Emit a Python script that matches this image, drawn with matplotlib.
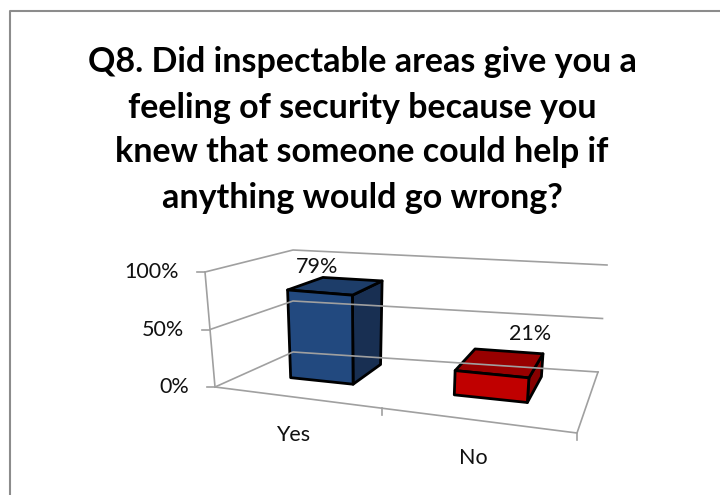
import matplotlib
matplotlib.use('Agg')
import matplotlib.pyplot as plt
from matplotlib.patches import Polygon

plt.rcParams['font.family'] = ['Lato', 'DejaVu Sans']

title = ('Q8. Did inspectable areas give you a\nfeeling of security because you\n'
         'knew that someone could help if\nanything would go wrong?')
categories = ['Yes', 'No']
values = [79, 21]
value_ticks = [0, 50, 100]
tick_labels = ['0%', '50%', '100%']

face_colors = [('#22497f', '#1d3d69', '#182f52'),   # front, top, side
               ('#c00000', '#980000', '#870000')]
label_offsets = [(-2, -26), (39, -40)]

# corners of the plot box in pixels, keyed by (x, depth, height) in 0..1
box = {(0, 0, 0): (215, 387), (1, 0, 0): (577, 433),
       (0, 1, 0): (293, 352), (1, 1, 0): (598, 372),
       (0, 0, 1): (205, 272), (1, 0, 1): (588, 306),
       (0, 1, 1): (293, 250), (1, 1, 1): (607, 265)}


def project(t, s, h):
    # foreshortening along the category and depth directions
    u = t / (t + (1 - t) * 1.17)
    v = s / (s + (1 - s) * 0.5)
    px = py = 0.0
    for (a, b, c), (x, y) in box.items():
        wgt = (u if a else 1 - u) * (v if b else 1 - v) * (h if c else 1 - h)
        px += wgt * x
        py += wgt * y
    return px, py


fig = plt.figure(figsize=(7.2, 4.95), dpi=100)
ax = fig.add_axes([0, 0, 1, 1])
ax.set_xlim(0, 720)
ax.set_ylim(495, 0)
ax.axis('off')

grid = '#a0a0a0'
ax.plot([10, 10, 720], [495, 11, 11], color='#8c8c8c', lw=1.5)

# walls and gridlines
for val in value_ticks:
    h = val / 100
    pts = [project(0, 0, h), project(0, 1, h), project(1, 1, h)]
    ax.plot(*zip(*pts), color=grid, lw=1.2)
    x0, y0 = project(0, 0, h)
    ax.plot([x0 - 8, x0], [y0, y0], color=grid, lw=1.2)
ax.plot(*zip(project(0, 0, 0), project(0, 0, 1)), color=grid, lw=1.2)
ax.plot(*zip(project(0, 0, 0), project(1, 0, 0), project(1, 1, 0)), color=grid, lw=1.2)
for t in [0.5, 1.0]:
    x0, y0 = project(t, 0, 0)
    ax.plot([x0, x0], [y0, y0 + 7], color=grid, lw=1.2)

for val, lab in zip(value_ticks, tick_labels):
    x0, y0 = project(0, 0, val / 100)
    ax.text(x0 - 26, y0, lab, ha='right', va='center', fontsize=15.5, color='#111111')

# bars
for i, (cat, val) in enumerate(zip(categories, values)):
    t0, t1 = (i + 0.3) / 2, (i + 0.7) / 2
    s0, s1 = 0.25, 0.75
    h = val / 100
    front = [project(t0, s0, 0), project(t1, s0, 0), project(t1, s0, h), project(t0, s0, h)]
    top = [project(t0, s0, h), project(t1, s0, h), project(t1, s1, h), project(t0, s1, h)]
    side = [project(t1, s0, 0), project(t1, s1, 0), project(t1, s1, h), project(t1, s0, h)]
    fc, tc, sc = face_colors[i]
    for poly, col in [(side, sc), (top, tc), (front, fc)]:
        ax.add_patch(Polygon(poly, closed=True, facecolor=col, edgecolor='black',
                             lw=2, joinstyle='round'))
    lx, ly = project((i + 0.5) / 2, s0, h)
    dx, dy = label_offsets[i]
    ax.text(lx + dx, ly + dy, f'{val}%', ha='center', va='center', fontsize=15.5,
            color='#111111')
    cx, cy = project((i + 0.5) / 2, 0, 0)
    ax.text(cx - 2, cy + 38, cat, ha='center', va='center',
            fontsize=15.5, color='#111111')

ax.text(362, 130, title, ha='center', va='center', fontsize=24.5, fontweight='bold',
        linespacing=1.5, color='black')

fig.savefig('out.png', dpi=100)
